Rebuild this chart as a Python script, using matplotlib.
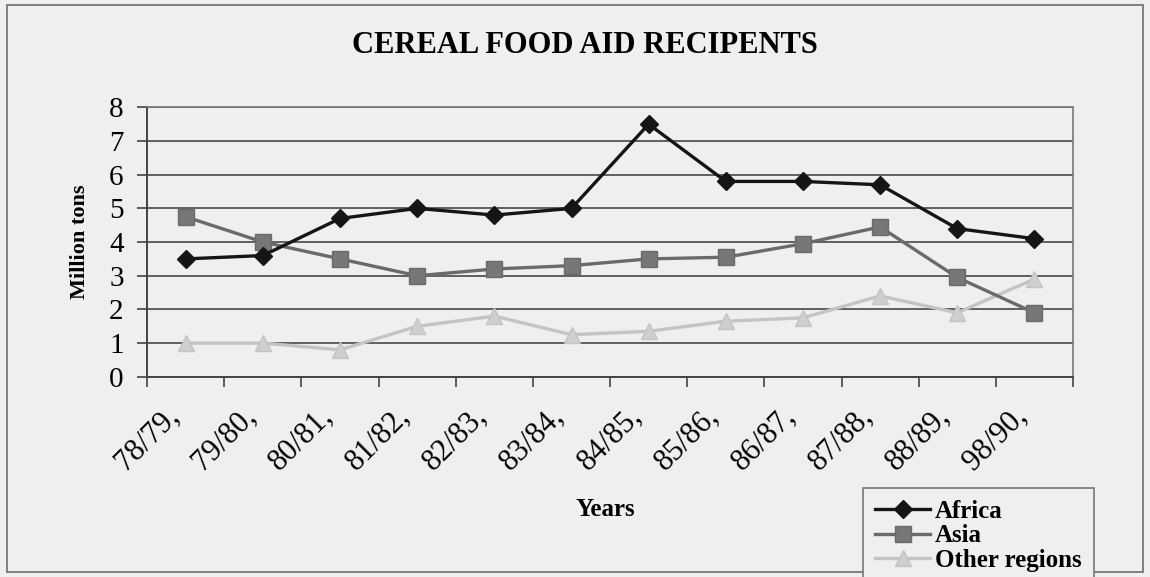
import numpy as np
import matplotlib
matplotlib.use("Agg")
import matplotlib.pyplot as plt
from matplotlib.patches import Rectangle
from matplotlib.transforms import ScaledTranslation

# Data
years = ["78/79,", "79/80,", "80/81,", "81/82,", "82/83,", "83/84,",
         "84/85,", "85/86,", "86/87,", "87/88,", "88/89,", "98/90,"]
africa = [3.5, 3.6, 4.7, 5.0, 4.8, 5.0, 7.5, 5.8, 5.8, 5.7, 4.4, 4.1]
asia = [4.75, 4.0, 3.5, 3.0, 3.2, 3.3, 3.5, 3.55, 3.95, 4.45, 2.95, 1.9]
other = [1.0, 1.0, 0.8, 1.5, 1.8, 1.25, 1.35, 1.65, 1.75, 2.4, 1.9, 2.9]

plt.rcParams['font.family'] = ['Liberation Serif', 'DejaVu Serif']

bg = "#efefed"
fig = plt.figure(figsize=(11.5, 5.77), dpi=100, facecolor=bg)
ax = fig.add_axes([0.128, 0.347, 0.805, 0.467])
ax.set_facecolor(bg)

x = np.arange(len(years))

ax.plot(x, africa, color="#151515", lw=2.4, marker="D", ms=9,
        mfc="#151515", mec="#151515", label="Africa", zorder=5)
ax.plot(x, asia, color="#6a6a6a", lw=2.4, marker="s", ms=12,
        mfc="#777777", mec="#6a6a6a", label="Asia", zorder=4)
ax.plot(x, other, color="#c4c4c4", lw=2.4, marker="^", ms=11,
        mfc="#cfcfcf", mec="#c4c4c4", label="Other regions", zorder=3)

ax.set_xlim(-0.5, len(years) - 0.5)
ax.set_ylim(0, 8)
ax.set_yticks(range(0, 9))
ax.yaxis.grid(True, color="#555555", lw=1.3)
ax.set_axisbelow(True)

for s in ["top", "right"]:
    ax.spines[s].set_color("#777777")
    ax.spines[s].set_linewidth(1.2)
for s in ["left", "bottom"]:
    ax.spines[s].set_color("#444444")
    ax.spines[s].set_linewidth(1.4)

ax.set_xticks(x)
ax.set_xticklabels(years, rotation=45, ha="right", va="top",
                   rotation_mode="anchor", fontsize=22)
ax.tick_params(axis="x", which="major", length=0, pad=18)
shift = ScaledTranslation(-22 / 100, 0, fig.dpi_scale_trans)
for lab in ax.get_xticklabels():
    lab.set_transform(lab.get_transform() + shift)
ax.set_xticks(np.arange(-0.5, len(years), 1.0), minor=True)
ax.tick_params(axis="x", which="minor", length=7, width=1.2, color="#444444")
ax.tick_params(axis="y", length=7, width=1.2, color="#444444",
               labelsize=21, pad=10)

ax.set_ylabel("Million tons", fontsize=16, fontweight="bold", labelpad=14)
ax.set_xlabel("Years", fontsize=18, fontweight="bold")
ax.xaxis.set_label_coords(0.495, -0.45)

fig.text(0.509, 0.922, "CEREAL FOOD AID RECIPENTS", ha="center", va="center",
         fontsize=22, fontweight="bold")

# outer chart frame
fig.patches.append(Rectangle((0.006, 0.009), 0.988, 0.982, transform=fig.transFigure,
                             fill=False, ec="#777777", lw=1.3))

leg = fig.legend(loc="upper left", bbox_to_anchor=(0.75, 0.155), borderaxespad=0,
                 frameon=True, fancybox=False, edgecolor="#777777",
                 facecolor=bg, framealpha=1, labelspacing=0.05,
                 handlelength=2.2, handletextpad=0.2, borderpad=0.5,
                 prop={"size": 18, "weight": "bold"})
leg.get_frame().set_linewidth(1.2)

plt.savefig("out.png", dpi=100, facecolor=bg)
